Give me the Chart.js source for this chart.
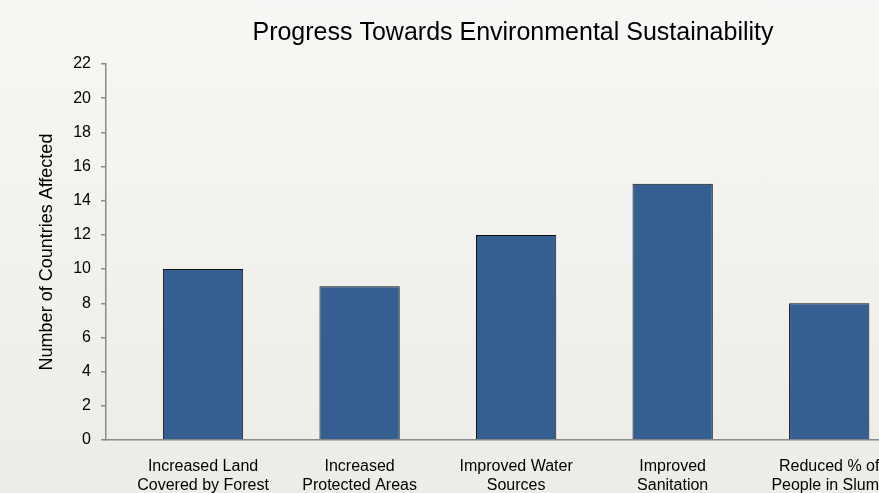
<!DOCTYPE html>
<html lang="en">
<head>
  <meta charset="UTF-8">
  <title>Progress Towards Environmental Sustainability</title>
  <style>
    html, body {
      margin: 0;
      padding: 0;
      width: 879px;
      height: 493px;
      overflow: hidden;
    }
    body {
      background: linear-gradient(180deg, #f7f7f5, #edece6);
      font-family: "Liberation Sans", Arial, sans-serif;
    }
    .wrap {
      width: 920px;
      height: 510px;
    }
  </style>
  <script src="https://cdn.jsdelivr.net/npm/chart.js"></script>
</head>
<body>
  <div class="wrap">
    <canvas id="chart" width="920" height="510"></canvas>
  </div>

  <script>
    // chart data
    const categories = [
      ['Increased Land', 'Covered by Forest'],
      ['Increased', 'Protected Areas'],
      ['Improved Water', 'Sources'],
      ['Improved', 'Sanitation'],
      ['Reduced % of', 'People in Slums']
    ];
    const countries = [10, 9, 12, 15, 8];
    const yTicks = [0, 2, 4, 6, 8, 10, 12, 14, 16, 18, 20, 22];

    const axisGrey = '#8a8a8a';
    const font = 'Liberation Sans, Arial, sans-serif';

    const ctx = document.getElementById('chart').getContext('2d');
    new Chart(ctx, {
      type: 'bar',
      data: {
        datasets: [{
          data: countries.map((v, i) => ({ x: i, y: v })),
          backgroundColor: '#365f91',
          borderColor: '#111',
          borderWidth: 1,
          barPercentage: 0.513,
          categoryPercentage: 1
        }]
      },
      options: {
        responsive: false,
        animation: false,
        layout: { padding: 0 },
        plugins: {
          legend: { display: false },
          tooltip: { enabled: false },
          title: {
            display: true,
            text: 'Progress Towards Environmental Sustainability',
            fullSize: false,
            color: '#000',
            font: { family: font, size: 25, weight: 'normal' },
            padding: { top: 18, bottom: 16 }
          }
        },
        scales: {
          x: {
            type: 'linear',
            offset: false,
            min: -0.62,
            max: 4.58,
            afterBuildTicks: (scale) => {
              scale.ticks = categories.map((_, i) => ({ value: i }));
            },
            afterFit: (scale) => { scale.height = 70; },
            grid: { display: false, drawTicks: false },
            border: { display: true, color: axisGrey, width: 1.5 },
            ticks: {
              autoSkip: false,
              maxRotation: 0,
              padding: 17,
              color: '#000',
              font: { family: font, size: 16 },
              callback: (v) => categories[v]
            }
          },
          y: {
            min: 0,
            max: 22,
            afterBuildTicks: (scale) => {
              scale.ticks = yTicks.map(v => ({ value: v }));
            },
            afterFit: (scale) => { scale.width = 106; },
            grid: {
              drawOnChartArea: false,
              drawTicks: true,
              tickLength: 5,
              color: axisGrey,
              lineWidth: 1.5
            },
            border: { display: true, color: axisGrey, width: 1.5 },
            ticks: {
              padding: 10,
              color: '#000',
              font: { family: font, size: 16 }
            },
            title: {
              display: true,
              text: 'Number of Countries Affected',
              color: '#000',
              font: { family: font, size: 18 },
              padding: { top: 36, bottom: 0 }
            }
          }
        }
      }
    });
  </script>
</body>
</html>
